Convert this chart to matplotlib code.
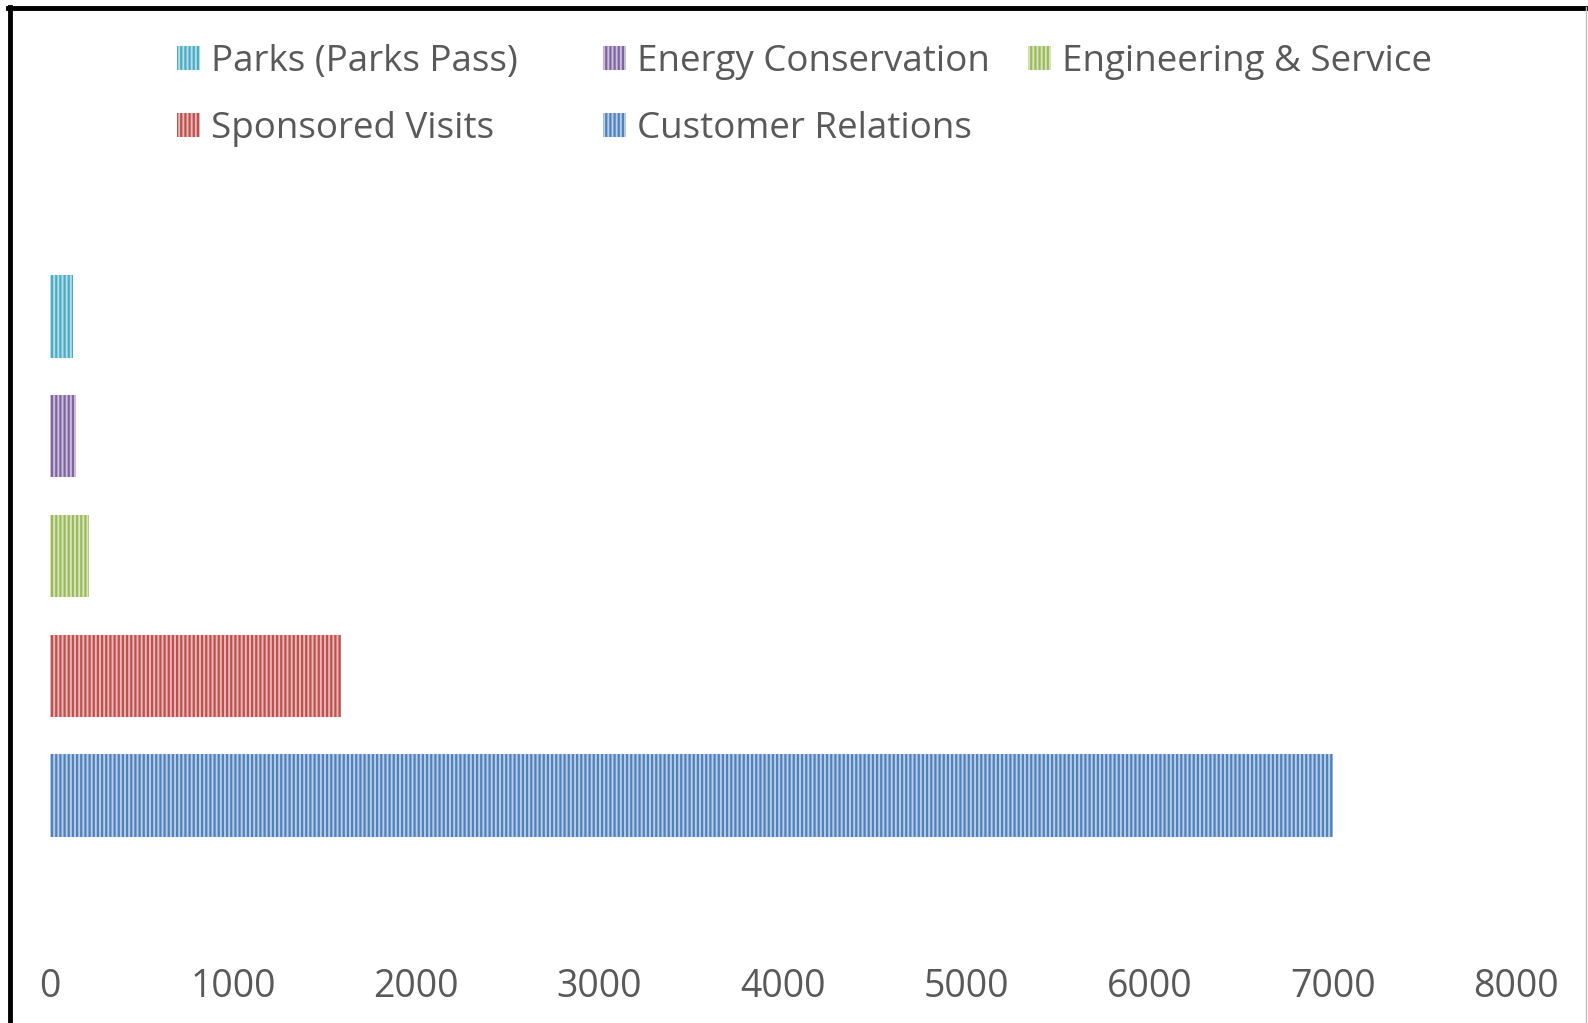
import matplotlib
matplotlib.use("Agg")
import matplotlib.pyplot as plt
from matplotlib.lines import Line2D
import matplotlib.colors as mcolors

series = ["Customer Relations", "Sponsored Visits", "Engineering & Service",
          "Energy Conservation", "Parks (Parks Pass)"]
values = [7000, 1590, 215, 145, 128]
colors = ["#4F81BD", "#C0504D", "#9BBB59", "#8064A2", "#4BACC6"]
xticks = [0, 1000, 2000, 3000, 4000, 5000, 6000, 7000, 8000]

plt.rcParams['font.family'] = ['Open Sans', 'DejaVu Sans']
plt.rcParams['hatch.linewidth'] = 1.6

W, H = 1588, 1023
fig = plt.figure(figsize=(W / 100, H / 100), dpi=100)

left, right = 49.6, 1516
top, bottom = 160, 950
ax = fig.add_axes([left / W, 1 - bottom / H, (right - left) / W, (bottom - top) / H])

def tint(c, f=0.6):
    r, g, b = mcolors.to_rgb(c)
    return (r + (1 - r) * f, g + (1 - g) * f, b + (1 - b) * f)

handles = {}
for i, (s, v, c) in enumerate(zip(series, values, colors)):
    b = ax.barh(i, v, height=0.686, color=tint(c), edgecolor=c, linewidth=0,
                hatch='||||', label=s)
    handles[s] = b

ax.set_xlim(0, 8000)
ax.set_ylim(-1.29, 5.307)
ax.set_xticks(xticks)
ax.set_xticklabels([str(t) for t in xticks])
ax.set_yticks([])
ax.tick_params(axis='x', length=0, pad=13, labelsize=27, labelcolor='#595959')
for sp in ax.spines.values():
    sp.set_visible(False)

legend_cols = [
    (177, ["Parks (Parks Pass)", "Sponsored Visits"]),
    (603, ["Energy Conservation", "Customer Relations"]),
    (1028, ["Engineering & Service"]),
]
for xpos, names in legend_cols:
    leg = fig.legend([handles[n] for n in names], names, ncol=1,
                     loc='upper left', bbox_to_anchor=(xpos / W, 1 - 44 / H),
                     frameon=False, fontsize=26.5, labelcolor='#595959',
                     handlelength=0.62, handleheight=0.62, handletextpad=0.3,
                     labelspacing=0.85, borderpad=0, borderaxespad=0)

# frame lines
fig.add_artist(Line2D([10 / W, 10 / W], [0, 1 - 7 / H], color='black', lw=3.5,
                      transform=fig.transFigure))
fig.add_artist(Line2D([8 / W, 1], [1 - 7.5 / H, 1 - 7.5 / H], color='black', lw=3.5,
                      transform=fig.transFigure))
fig.add_artist(Line2D([1586 / W, 1586 / W], [0, 1 - 7 / H], color='#bfbfbf', lw=1,
                      transform=fig.transFigure))

fig.savefig("out.png", dpi=100, facecolor='white')
